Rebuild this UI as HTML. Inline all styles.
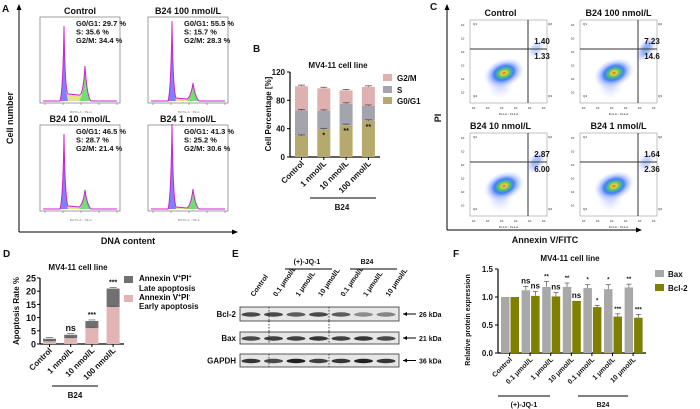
<!DOCTYPE html>
<html><head><meta charset="utf-8">
<style>
html,body{margin:0;padding:0;background:#fff;}
svg{display:block;font-family:"Liberation Sans",Arial,sans-serif;}
</style></head>
<body>
<svg id="fig" width="700" height="409" viewBox="0 0 700 409" xmlns="http://www.w3.org/2000/svg">
<defs>
<radialGradient id="cloud" cx="50%" cy="50%" r="50%">
<stop offset="0" stop-color="#e04020"/><stop offset="0.12" stop-color="#f0d020"/><stop offset="0.28" stop-color="#40c060"/><stop offset="0.48" stop-color="#3070ff"/><stop offset="0.75" stop-color="#9fb4ff" stop-opacity="0.55"/><stop offset="1" stop-color="#d0d8ff" stop-opacity="0"/>
</radialGradient>
<radialGradient id="cloud2" cx="50%" cy="50%" r="50%">
<stop offset="0" stop-color="#40a0c0"/><stop offset="0.4" stop-color="#5070ff" stop-opacity="0.7"/><stop offset="1" stop-color="#b0c0ff" stop-opacity="0"/>
</radialGradient>
</defs>
<g id="pA"></g>
<g id="pB"></g>
<g id="pC"></g>
<g id="pD"></g>
<g id="pE"></g>
<g id="pF"></g>
</svg>
<script>
// ---- Panel B data ----
const bCategories = ["Control","1 nmol/L","10 nmol/L","100 nmol/L"];
const bG0G1 = [29.7, 39, 45, 51];
const bS = [36, 26, 30, 21];
const bG2M = [34.3, 32, 19, 27];
const bStars = ["", "*", "**", "**"];
const bTicks = [0, 40, 80, 120];
// ---- Panel D data ----
const dCategories = ["Control","1 nmol/L","10 nmol/L","100 nmol/L"];
const dEarly = [1.0, 2.2, 6.0, 14.0];
const dLate = [1.0, 1.3, 2.7, 7.0];
const dSig = ["", "ns", "***", "***"];
const dTicks = [0, 5, 10, 15, 20, 25];
// ---- Panel F data ----
const fCategories = ["Control","0.1 μmol/L","1 μmol/L","10 μmol/L","0.1 μmol/L","1 μmol/L","10 μmol/L"];
const fBax = [1.0, 1.12, 1.18, 1.18, 1.16, 1.14, 1.17];
const fBaxErr = [0, 0.07, 0.1, 0.07, 0.06, 0.08, 0.06];
const fBcl = [1.0, 1.02, 1.01, 0.93, 0.82, 0.65, 0.63];
const fBclErr = [0, 0.08, 0.07, 0, 0.03, 0.05, 0.06];
const fBaxSig = ["", "ns", "**", "**", "*", "*", "**"];
const fBclSig = ["", "ns", "ns", "ns", "*", "***", "***"];
const fTicks = [0.0, 0.5, 1.0, 1.5];
// ---- Panel A/C labels ----
const aTitles = ["Control","B24 100 nmol/L","B24 10 nmol/L","B24 1 nmol/L"];
const aStats = [["29.7","35.6","34.4"],["55.5","15.7","28.3"],["46.5","28.7","21.4"],["41.3","25.2","30.6"]];
const cTitles = ["Control","B24 100 nmol/L","B24 10 nmol/L","B24 1 nmol/L"];
const cQ2 = ["1.40","7.23","2.87","1.64"];
const cQ3 = ["1.33","14.6","6.00","2.36"];

const NS="http://www.w3.org/2000/svg";
function el(parent, tag, attrs, text){
  const e=document.createElementNS(NS,tag);
  for(const k in attrs) e.setAttribute(k,attrs[k]);
  if(text!==undefined) e.textContent=text;
  parent.appendChild(e); return e;
}
function T(parent,x,y,s,size,extra){
  const a=Object.assign({x:x,y:y,'font-size':size||8,'font-weight':'bold',fill:'#111'},extra||{});
  return el(parent,'text',a,s);
}

// ================= Panel A =================
(function(){
  const g=document.getElementById('pA');
  const t=T(g,2,12,"A",10);
  
  
  el(g,'line',{x1:19,y1:232,x2:19,y2:8,stroke:'#000','stroke-width':1});
  el(g,'path',{d:'M16.5,10 L19,4 L21.5,10Z',fill:'#000'});
  el(g,'line',{x1:19,y1:232,x2:234,y2:232,stroke:'#000','stroke-width':1});
  el(g,'path',{d:'M232,229.5 L238,232 L232,234.5Z',fill:'#000'});
  const yl=T(g,0,0,"Cell number",9,{transform:'translate(13,118) rotate(-90)','text-anchor':'middle'});
  
  
  const xl=T(g,128,244,"DNA content",9,{'text-anchor':'middle'});
  
  
  const boxes=[[40,17],[148,17],[40,125],[148,125]];
  const g1h=[75,80,75,85], g2h=[35,18,19,20], sl=[7,3,3,2];
  boxes.forEach((b,i)=>{
    const [x,y]=b, w=80, h=86, base=y+h-2;
    const sub=el(g,'g',{});
    
    
    el(sub,'rect',{x:x,y:y,width:w,height:h,fill:'#fff',stroke:'#888','stroke-width':0.8});
    const p1=x+24, p2=x+45;
    el(sub,'path',{d:`M${p1+2},${base} L${p1+2},${base-sl[i]} L${p2-4},${base-sl[i]+1} L${p2-4},${base}Z`,fill:'#e6e28a'});
    el(sub,'path',{d:`M${p1-4},${base} Q${p1-1},${base-10} ${p1},${base-g1h[i]} Q${p1+1},${base-10} ${p1+4},${base}Z`,fill:'#8080ff'});
    el(sub,'path',{d:`M${p2-6},${base} Q${p2-2},${base-4} ${p2},${base-g2h[i]} Q${p2+2},${base-4} ${p2+6},${base}Z`,fill:'#70e070'});
    el(sub,'path',{d:`M${x+3},${base} L${p1-4},${base} Q${p1-1},${base-10} ${p1},${base-g1h[i]} Q${p1+1},${base-10} ${p1+4},${base-sl[i]} L${p2-6},${base-sl[i]+1} Q${p2-2},${base-4} ${p2},${base-g2h[i]} Q${p2+2},${base-4} ${p2+6},${base} L${x+w-3},${base}`,fill:'none',stroke:'#d020d0','stroke-width':1});
    const tt=T(g,x+40,y-3,aTitles[i],9,{'text-anchor':'middle'});
    
    
    ['G0/G1: ','S: ','G2/M: '].forEach((s,k)=>{
      T(sub,x+36,y+9+k*8.5,s+aStats[i][k]+" %",7.5);
    });
    for(let k=0;k<5;k++){ el(sub,'line',{x1:x+5+k*18,y1:y+h,x2:x+5+k*18,y2:y+h+2,stroke:'#555','stroke-width':0.5}); }
    T(sub,x+30,y+h+10,"BOTG-A :: PE-A",3,{'font-weight':'normal',fill:'#777'});
  });
})();

// ================= Panel B =================
(function(){
  const g=document.getElementById('pB');
  T(g,253,52,"B",10);
  T(g,338,68,"MV4-11 cell line",8,{'text-anchor':'middle'});
  const x0=290, y0=157, sc=85/120;
  const ys=v=>y0-v*sc;
  const xs=i=>295+i*22.3;
  const bw=13;
  el(g,'line',{x1:x0,y1:ys(120),x2:x0,y2:y0,stroke:'#000','stroke-width':1.2});
  el(g,'line',{x1:x0,y1:y0,x2:380,y2:y0,stroke:'#000','stroke-width':1.2});
  bTicks.forEach(v=>{
    el(g,'line',{x1:x0-3,y1:ys(v),x2:x0,y2:ys(v),stroke:'#000'});
    T(g,x0-5,ys(v)+3,String(v),8,{'text-anchor':'end'});
  });
  T(g,0,0,"Cell Percentage [%]",8,{transform:'translate(271,114) rotate(-90)','text-anchor':'middle'});
  bCategories.forEach((c,i)=>{
    const x=xs(i);
    const a=bG0G1[i], s=bS[i], m=bG2M[i];
    let r=el(g,'rect',{x:x,y:ys(a),width:bw,height:a*sc,fill:'#b5a96e'});
    
    
    r=el(g,'rect',{x:x,y:ys(a+s),width:bw,height:s*sc,fill:'#a4a4ae'});
    
    
    r=el(g,'rect',{x:x,y:ys(a+s+m),width:bw,height:m*sc,fill:'#dfb0b0'});
    
    
    [a,a+s,a+s+m].forEach(v=>{
      el(g,'line',{x1:x+bw/2,y1:ys(v),x2:x+bw/2,y2:ys(v+1.5),stroke:'#444','stroke-width':0.7});
      el(g,'line',{x1:x+3,y1:ys(v+1.5),x2:x+bw-3,y2:ys(v+1.5),stroke:'#444','stroke-width':0.7});
    });
    if(bStars[i]) T(g,x+bw/2,ys(a)+8,bStars[i],7,{'text-anchor':'middle'});
    el(g,'line',{x1:x+bw/2,y1:y0,x2:x+bw/2,y2:y0+3,stroke:'#000'});
    T(g,0,0,c,8,{transform:`translate(${x+bw/2+3},${y0+7}) rotate(-45)`,'text-anchor':'end'});
  });
  el(g,'line',{x1:310,y1:198,x2:376,y2:198,stroke:'#000','stroke-width':1});
  T(g,342,210,"B24",8,{'text-anchor':'middle'});
  [["G2/M","#dfb0b0",78],["S","#a4a4ae",90],["G0/G1","#b5a96e",101]].forEach(l=>{
    const r=el(g,'rect',{x:383,y:l[2]-4,width:9,height:7,fill:l[1]});
    
    
    T(g,397,l[2]+3,l[0],8);
  });
})();

// ================= Panel C =================
(function(){
  const g=document.getElementById('pC');
  T(g,430,10,"C",10);
  el(g,'line',{x1:447,y1:230,x2:447,y2:8,stroke:'#000'});
  el(g,'path',{d:'M444.5,10 L447,4 L449.5,10Z',fill:'#000'});
  el(g,'line',{x1:447,y1:230,x2:638,y2:230,stroke:'#000'});
  el(g,'path',{d:'M636,227.5 L642,230 L636,232.5Z',fill:'#000'});
  T(g,0,0,"PI",9,{transform:'translate(441,118) rotate(-90)','text-anchor':'middle'});
  T(g,545,243,"Annexin V/FITC",9,{'text-anchor':'middle'});
  const plots=[[470,20,528,49],[580,20,638,49],[470,133,528,162],[580,133,638,162]];
  const spread=[0.2,0.9,0.6,0.25];
  plots.forEach((p,i)=>{
    const [x,y,vx,hy]=p, w=77, h=83;
    const sub=el(g,'g',{});
    
    
    el(sub,'rect',{x:x,y:y,width:w,height:h,fill:'#fff',stroke:'#999','stroke-width':0.6});
    el(sub,'ellipse',{cx:x+30,cy:y+60,rx:14,ry:20,fill:'url(#cloud2)',opacity:0.35});
    el(sub,'ellipse',{cx:x+34,cy:y+53,rx:21,ry:14,fill:'url(#cloud)',opacity:0.9,transform:`rotate(-20 ${x+34} ${y+53})`});
    el(sub,'ellipse',{cx:vx+8,cy:hy,rx:8,ry:10+spread[i]*6,fill:'url(#cloud2)',opacity:0.3+spread[i]*0.5,transform:`rotate(35 ${vx+8} ${hy})`});
    el(sub,'line',{x1:vx,y1:y,x2:vx,y2:y+h,stroke:'#333','stroke-width':1});
    el(sub,'line',{x1:x,y1:hy,x2:x+w,y2:hy,stroke:'#333','stroke-width':1});
    T(sub,vx+14,hy-5,cQ2[i],8,{'text-anchor':'middle'});
    T(sub,vx+14,hy+10,cQ3[i],8,{'text-anchor':'middle'});
    T(sub,x+3,y+5,"Q1",3,{'font-weight':'normal'});
    T(sub,vx+20,y+5,"Q2",3,{'font-weight':'normal'});
    T(sub,x+3,y+h-6,"Q4",3,{'font-weight':'normal'});
    T(sub,vx+20,y+h-6,"Q3",3,{'font-weight':'normal'});
    for(let k=0;k<6;k++) T(sub,x-9,y+6+k*13.5,"10",3,{'font-weight':'normal'});
    for(let k=0;k<6;k++) T(sub,x+2+k*14,y+h+6,"10",3,{'font-weight':'normal'});
    T(sub,x+w/2,y+h+12,"FL1-A :: FL1-A",3,{'font-weight':'normal','text-anchor':'middle'});
    const tt=T(g,x+w/2-8+(i%2?8:0),y-4,cTitles[i],9,{'text-anchor':'middle'});
    
    
  });
})();

// ================= Panel D =================
(function(){
  const g=document.getElementById('pD');
  T(g,3,257,"D",10);
  T(g,78,270,"MV4-11 cell line",8,{'text-anchor':'middle'});
  const x0=40, y0=344, sc=66/25;
  const ys=v=>y0-v*sc;
  const xs=i=>43+i*21.2;
  const bw=13;
  el(g,'line',{x1:x0,y1:ys(25),x2:x0,y2:y0,stroke:'#000','stroke-width':1.2});
  el(g,'line',{x1:x0,y1:y0,x2:124,y2:y0,stroke:'#000','stroke-width':1.2});
  dTicks.forEach(v=>{
    el(g,'line',{x1:x0-3,y1:ys(v),x2:x0,y2:ys(v),stroke:'#000'});
    T(g,x0-4,ys(v)+3.5,String(v),9,{'text-anchor':'end'});
  });
  T(g,0,0,"Apoptosis Rate %",8,{transform:'translate(19,311) rotate(-90)','text-anchor':'middle'});
  dCategories.forEach((c,i)=>{
    const x=xs(i), e=dEarly[i], l=dLate[i];
    let r=el(g,'rect',{x:x,y:ys(e),width:bw,height:e*sc,fill:'#e2b4b4'});
    
    
    r=el(g,'rect',{x:x,y:ys(e+l),width:bw,height:l*sc,fill:'#707070'});
    
    
    [e,e+l].forEach(v=>{
      el(g,'line',{x1:x+3,y1:ys(v+0.4),x2:x+bw-3,y2:ys(v+0.4),stroke:'#555','stroke-width':0.7});
    });
    if(dSig[i]) T(g,x+bw/2,ys(e+l)-4,dSig[i],dSig[i]==='ns'?9:7,{'text-anchor':'middle'});
    el(g,'line',{x1:x+bw/2,y1:y0,x2:x+bw/2,y2:y0+3,stroke:'#000'});
    T(g,0,0,c,8,{transform:`translate(${x+bw/2+3},${y0+7}) rotate(-45)`,'text-anchor':'end'});
  });
  el(g,'line',{x1:52,y1:386,x2:98,y2:386,stroke:'#000'});
  T(g,75,398,"B24",8,{'text-anchor':'middle'});
  let r=el(g,'rect',{x:124,y:276,width:9,height:7,fill:'#707070'});
  
  
  r=el(g,'rect',{x:124,y:295,width:9,height:7,fill:'#e2b4b4'});
  
  
  const t1=el(g,'text',{x:139,y:281,'font-size':8,'font-weight':'bold'});
  t1.innerHTML='Annexin V<tspan dy="-3" font-size="5">+</tspan><tspan dy="3">PI</tspan><tspan dy="-3" font-size="5">+</tspan>';
  T(g,139,291,"Late apoptosis",8);
  const t2=el(g,'text',{x:139,y:300,'font-size':8,'font-weight':'bold'});
  t2.innerHTML='Annexin V<tspan dy="-3" font-size="5">+</tspan><tspan dy="3">PI</tspan><tspan dy="-3" font-size="5">-</tspan>';
  T(g,139,309,"Early apoptosis",8);
})();

// ================= Panel E =================
(function(){
  const g=document.getElementById('pE');
  T(g,232,257,"E",10);
  const lanes=["Control","0.1 μmol/L","1 μmol/L","10 μmol/L","0.1 μmol/L","1 μmol/L","10 μmol/L"];
  const lx=i=>251+i*22.5;
  lanes.forEach((l,i)=>T(g,0,0,l,7,{transform:`translate(${lx(i)+3},${297}) rotate(-55)`}));
  T(g,307,264,"(+)-JQ-1",7,{'text-anchor':'middle'});
  el(g,'line',{x1:285,y1:269,x2:332,y2:269,stroke:'#000'});
  T(g,367,264,"B24",7,{'text-anchor':'middle'});
  el(g,'line',{x1:350,y1:269,x2:397,y2:269,stroke:'#000'});
  const rows=[["Bcl-2",307,14,"26 kDa"],["Bax",332,12,"21 kDa"],["GAPDH",354,13,"36 kDa"]];
  const dens=[[0.8,0.8,0.7,0.8,0.7,0.45,0.5],[0.8,0.85,0.85,0.9,0.85,0.9,0.8],[0.9,0.8,1,0.85,0.9,1,0.9]];
  rows.forEach((r,k)=>{
    const [name,y,h,kd]=r;
    const sub=el(g,'g',{});
    
    
    el(sub,'rect',{x:240,y:y,width:159,height:h,fill:'#e6e6e6',stroke:'#333','stroke-width':0.8});
    dens[k].forEach((d,i)=>{
      el(sub,'ellipse',{cx:lx(i),cy:y+h/2+0.5,rx:9.5,ry:2.2,fill:'#222',opacity:d});
    });
    el(sub,'line',{x1:269,y1:y,x2:269,y2:y+h,stroke:'#222','stroke-dasharray':'1.5,1.5','stroke-width':0.8});
    el(sub,'line',{x1:329,y1:y,x2:329,y2:y+h,stroke:'#222','stroke-dasharray':'1.5,1.5','stroke-width':0.8});
    T(g,236,y+h/2+3,name,8,{'text-anchor':'end'});
    el(g,'line',{x1:403,y1:y+h/2,x2:416,y2:y+h/2,stroke:'#000'});
    el(g,'path',{d:`M403,${y+h/2} l4,-2 l0,4Z`,fill:'#000'});
    T(g,419,y+h/2+3,kd,7);
  });
  el(g,'line',{x1:269,y1:321,x2:269,y2:332,stroke:'#222','stroke-dasharray':'1.5,1.5','stroke-width':0.8});
  el(g,'line',{x1:329,y1:321,x2:329,y2:332,stroke:'#222','stroke-dasharray':'1.5,1.5','stroke-width':0.8});
})();

// ================= Panel F =================
(function(){
  const g=document.getElementById('pF');
  T(g,453,257,"F",10);
  T(g,570,261,"MV4-11 cell line",8,{'text-anchor':'middle'});
  const x0=498, y0=353, sc=56;
  const ys=v=>y0-v*sc;
  const xs=i=>501+i*20.6;
  const bw=8.5;
  el(g,'line',{x1:x0,y1:ys(1.5),x2:x0,y2:y0,stroke:'#000','stroke-width':1.2});
  el(g,'line',{x1:x0,y1:y0,x2:646,y2:y0,stroke:'#000','stroke-width':1.2});
  fTicks.forEach(v=>{
    el(g,'line',{x1:x0-3,y1:ys(v),x2:x0,y2:ys(v),stroke:'#000'});
    T(g,x0-5,ys(v)+3,v.toFixed(1),8,{'text-anchor':'end'});
  });
  T(g,0,0,"Relative protein expression",7,{transform:'translate(470,320) rotate(-90)','text-anchor':'middle'});
  fCategories.forEach((c,i)=>{
    const x=xs(i);
    let r=el(g,'rect',{x:x,y:ys(fBax[i]),width:bw,height:fBax[i]*sc,fill:'#a8a8a8'});
    
    
    r=el(g,'rect',{x:x+bw+1,y:ys(fBcl[i]),width:bw,height:fBcl[i]*sc,fill:'#7f7f00'});
    
    
    [[x,fBax[i],fBaxErr[i],fBaxSig[i]],[x+bw+1,fBcl[i],fBclErr[i],fBclSig[i]]].forEach(q=>{
      const cx=q[0]+bw/2;
      if(q[2]>0){
        el(g,'line',{x1:cx,y1:ys(q[1]),x2:cx,y2:ys(q[1]+q[2]),stroke:'#555','stroke-width':0.7});
        el(g,'line',{x1:cx-2.5,y1:ys(q[1]+q[2]),x2:cx+2.5,y2:ys(q[1]+q[2]),stroke:'#555','stroke-width':0.7});
      }
      if(q[3]) T(g,cx,ys(q[1]+q[2])-3,q[3],q[3]==='ns'?8:6,{'text-anchor':'middle'});
    });
    el(g,'line',{x1:x+bw,y1:y0,x2:x+bw,y2:y0+3,stroke:'#000'});
    T(g,0,0,c,7,{transform:`translate(${x+bw+3},${y0+7}) rotate(-45)`,'text-anchor':'end'});
  });
  el(g,'line',{x1:498,y1:396,x2:550,y2:396,stroke:'#000'});
  T(g,524,407,"(+)-JQ-1",7,{'text-anchor':'middle'});
  el(g,'line',{x1:578,y1:396,x2:628,y2:396,stroke:'#000'});
  T(g,603,407,"B24",7,{'text-anchor':'middle'});
  let r=el(g,'rect',{x:655,y:270,width:9,height:7,fill:'#a8a8a8'});
  
  
  r=el(g,'rect',{x:655,y:284,width:9,height:7,fill:'#7f7f00'});
  
  
  T(g,668,277,"Bax",8);
  T(g,668,291,"Bcl-2",8);
})();
</script>
</body></html>
